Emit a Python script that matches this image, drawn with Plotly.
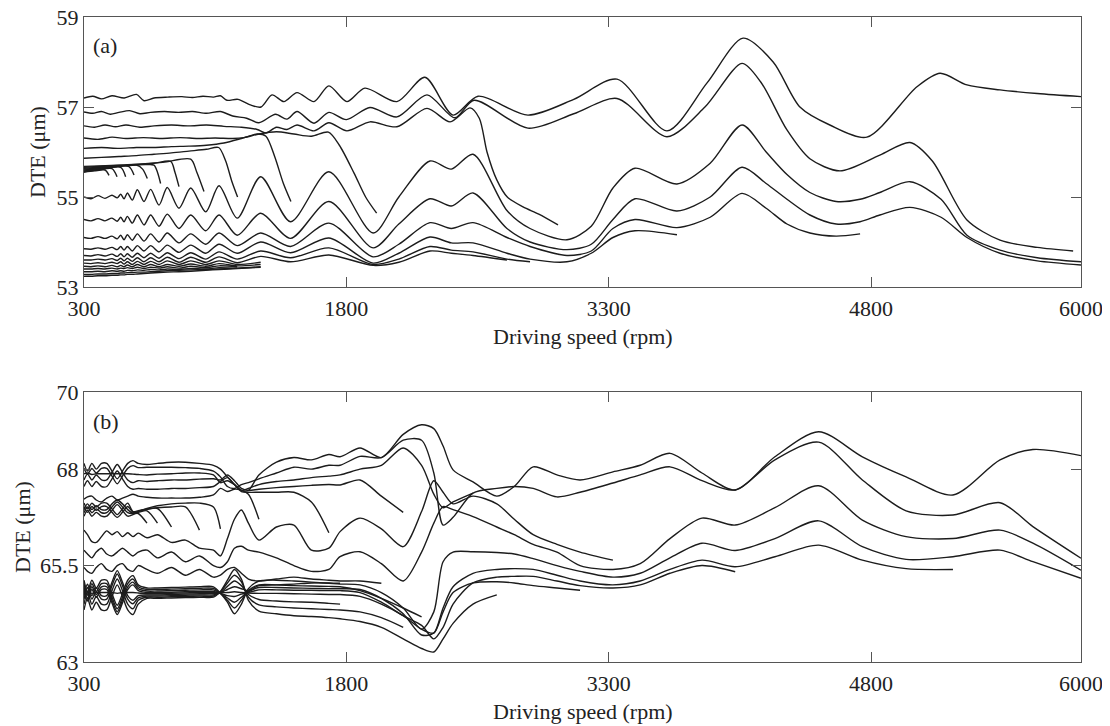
import plotly.graph_objects as go

# ---------------- panel (a) data ----------------
# shared speed grid for the oscillating curves of (a)
rpm_a = [300, 340, 380, 420, 460, 490, 510, 529, 548, 576, 605, 643, 681, 729, 776, 843, 910, 996,
         1072, 1176, 1310, 1481, 1700, 1953, 2100, 2278, 2400, 2524, 2718, 2850, 3061, 3200, 3324,
         3450, 3690, 3880, 4062, 4200, 4319, 4450, 4600, 4737, 4850, 5022, 5200, 5348, 5537, 5750, 6000]

osc1_a = [55.0, 54.96, 55.03, 54.97, 55.04, 54.98, 55.06, 54.96, 55.09, 54.93, 55.16, 54.9, 55.17, 54.82,
          55.21, 54.75, 55.2, 54.67, 55.25, 54.53, 55.45, 54.45, 55.56, 54.2, 55.0, 55.8, 55.62, 55.95,
          54.7, 54.3, 54.05, 54.35, 55.2, 55.64, 55.29, 55.75, 56.6, 56.0, 55.5, 55.1, 54.9, 54.95, 55.1,
          55.34, 54.95, 54.15, 53.82, 53.65, 53.56]
osc2_a = [54.5, 54.47, 54.52, 54.47, 54.53, 54.46, 54.55, 54.45, 54.57, 54.42, 54.6, 54.38, 54.6, 54.35,
          54.62, 54.3, 54.6, 54.25, 54.6, 54.15, 54.64, 54.08, 54.9, 53.87, 54.4, 54.96, 54.8, 55.09,
          54.3, 54.0, 53.83, 53.95, 54.5, 54.96, 54.69, 55.0, 55.66, 55.3, 54.95, 54.6, 54.4, 54.45, 54.6,
          54.77, 54.55, 54.1, 53.75, 53.58, 53.49]
osc3_a = [54.1, 54.08, 54.12, 54.08, 54.13, 54.07, 54.15, 54.05, 54.16, 54.04, 54.18, 54.02, 54.18, 54.0,
          54.2, 53.98, 54.18, 53.95, 54.2, 53.92, 54.2, 53.9, 54.42, 53.67, 53.95, 54.43, 54.3, 54.43,
          54.1, 53.9, 53.7, 53.8, 54.3, 54.5, 54.32, 54.55, 55.08, 54.75, 54.4, 54.2, 54.13, 54.18]
osc4_a = [53.85, 53.84, 53.87, 53.84, 53.88, 53.83, 53.9, 53.82, 53.9, 53.8, 53.92, 53.8, 53.92, 53.78,
          53.93, 53.77, 53.93, 53.75, 53.95, 53.75, 54.0, 53.76, 54.09, 53.53, 53.75, 54.11, 53.98, 53.98,
          53.75, 53.62, 53.56, 53.75, 54.1, 54.25, 54.16]
osc5_a = [53.7, 53.69, 53.72, 53.69, 53.73, 53.68, 53.74, 53.67, 53.74, 53.66, 53.75, 53.65, 53.75, 53.64,
          53.76, 53.63, 53.76, 53.62, 53.78, 53.62, 53.8, 53.65, 53.87, 53.5, 53.62, 53.9, 53.82, 53.78,
          53.62, 53.56]
osc6_a = [53.6, 53.6, 53.62, 53.6, 53.63, 53.59, 53.64, 53.58, 53.64, 53.57, 53.65, 53.56, 53.65, 53.56,
          53.66, 53.55, 53.66, 53.55, 53.67, 53.54, 53.68, 53.56, 53.71, 53.48, 53.55, 53.8, 53.75, 53.7, 53.6]
band1_a = [53.53, 53.52, 53.54, 53.52, 53.55, 53.52, 53.56, 53.51, 53.56, 53.5, 53.57, 53.5, 53.57, 53.5,
           53.58, 53.5, 53.58, 53.5, 53.58, 53.5, 53.55]
band2_a = [53.46, 53.45, 53.47, 53.45, 53.48, 53.45, 53.48, 53.45, 53.49, 53.45, 53.5, 53.45, 53.5, 53.45,
           53.5, 53.46, 53.51, 53.46, 53.52, 53.47, 53.5]
band3_a = [53.4, 53.4, 53.41, 53.4, 53.42, 53.4, 53.42, 53.41, 53.43, 53.41, 53.44, 53.41, 53.44, 53.42,
           53.45, 53.42, 53.46, 53.43, 53.47, 53.45]
band4_a = [53.34, 53.34, 53.35, 53.34, 53.36, 53.35, 53.36, 53.35, 53.37, 53.36, 53.38, 53.37, 53.39, 53.38,
           53.4, 53.39, 53.41, 53.4, 53.43, 53.42, 53.45]
band5_a = [53.28, 53.28, 53.29, 53.29, 53.3, 53.3, 53.31, 53.31, 53.32, 53.32, 53.33, 53.33, 53.34, 53.35,
           53.36, 53.37, 53.38, 53.39, 53.4, 53.42]
band6_a = [53.24, 53.24, 53.25, 53.25, 53.26, 53.26, 53.27, 53.27, 53.28, 53.28, 53.29, 53.3, 53.31, 53.32,
           53.33, 53.34, 53.35, 53.37, 53.39, 53.41, 53.44]

# upper curves of (a), each with its own speeds
top1_x = [300, 350, 400, 460, 530, 600, 643, 700, 780, 860, 920, 980, 1040, 1080, 1117, 1180, 1255, 1312,
          1375, 1443, 1518, 1615, 1700, 1803, 1906, 2089, 2249, 2410, 2553, 2838, 3100, 3347, 3633, 3861,
          4068, 4240, 4393, 4564, 4776, 5062, 5194, 5348, 5537, 5750, 6000]
top1_y = [57.2, 57.24, 57.18, 57.25, 57.2, 57.28, 57.14, 57.2, 57.22, 57.23, 57.21, 57.24, 57.22, 57.25,
          57.15, 57.17, 57.04, 57.0, 57.27, 57.12, 57.32, 57.12, 57.47, 57.12, 57.42, 57.12, 57.66, 56.82,
          57.24, 56.82, 57.17, 57.62, 56.47, 57.53, 58.53, 58.0, 57.0, 56.6, 56.33, 57.45, 57.75, 57.49,
          57.38, 57.3, 57.23]
top2_x = [300, 350, 400, 450, 500, 560, 620, 680, 760, 840, 920, 1000, 1080, 1150, 1230, 1300, 1395, 1460,
          1518, 1615, 1700, 1800, 1935, 2089, 2261, 2420, 2530, 2838, 3100, 3347, 3633, 3850, 4062, 4170,
          4319, 4450, 4622, 4850, 5022, 5150, 5348, 5537, 5750, 5955]
top2_y = [56.89, 56.86, 56.9, 56.84, 56.88, 56.92, 56.85, 56.88, 56.9, 56.88, 56.9, 56.86, 56.9, 56.8,
          56.75, 56.65, 56.84, 56.73, 56.9, 56.64, 56.88, 56.72, 56.99, 56.78, 57.27, 56.76, 57.15, 56.53,
          56.85, 57.19, 56.34, 57.0, 57.97, 57.55, 56.49, 55.85, 55.58, 55.93, 56.21, 55.8, 54.49, 54.04,
          53.88, 53.8]
top3_x = [300, 360, 420, 480, 540, 620, 700, 800, 900, 1000, 1100, 1200, 1290, 1340, 1400, 1460, 1518,
          1615, 1700, 1803, 1935, 2089, 2261, 2393, 2507, 2560, 2604, 2660, 2720, 2810, 2900, 3010]
top3_y = [56.58, 56.55, 56.6, 56.56, 56.6, 56.55, 56.58, 56.6, 56.58, 56.6, 56.57, 56.55, 56.5, 56.42,
          56.55, 56.5, 56.6, 56.47, 56.65, 56.47, 56.67, 56.56, 56.97, 56.67, 56.98, 56.75, 56.0, 55.38,
          55.0, 54.78, 54.62, 54.38]
top4_x = [300, 380, 460, 540, 640, 740, 850, 950, 1050, 1150, 1215, 1300, 1400, 1500, 1600, 1697, 1760,
          1844, 1910, 1973]
top4_y = [56.31, 56.28, 56.33, 56.3, 56.32, 56.3, 56.32, 56.3, 56.31, 56.3, 56.32, 56.4, 56.45, 56.4,
          56.35, 56.44, 56.15, 55.53, 55.0, 54.64]
top5_x = [300, 400, 500, 600, 700, 800, 900, 1000, 1100, 1200, 1290, 1340, 1390, 1440, 1483]
top5_y = [56.08, 56.1, 56.08, 56.1, 56.1, 56.12, 56.13, 56.15, 56.2, 56.3, 56.4, 56.35, 55.9, 55.3, 54.9]
top6_x = [300, 400, 500, 600, 700, 800, 900, 1000, 1070, 1110, 1145, 1178]
top6_y = [55.86, 55.88, 55.9, 55.92, 55.95, 55.98, 56.02, 56.06, 56.1, 55.8, 55.35, 55.0]

# short curves that drop off near 55.5
drop1_x = [300, 360, 420, 443]
drop1_y = [55.55, 55.58, 55.6, 55.48]
drop2_x = [300, 380, 460, 489]
drop2_y = [55.57, 55.6, 55.63, 55.45]
drop3_x = [300, 400, 510, 538]
drop3_y = [55.58, 55.62, 55.66, 55.45]
drop4_x = [300, 420, 555, 586]
drop4_y = [55.6, 55.64, 55.68, 55.49]
drop5_x = [300, 450, 600, 635, 662]
drop5_y = [55.62, 55.66, 55.71, 55.62, 55.41]
drop6_x = [300, 480, 650, 700, 720, 738]
drop6_y = [55.64, 55.68, 55.72, 55.71, 55.55, 55.3]
drop7_x = [300, 500, 700, 796, 820, 843]
drop7_y = [55.66, 55.7, 55.75, 55.79, 55.55, 55.23]
drop8_x = [300, 550, 750, 910, 945, 986]
drop8_y = [55.68, 55.72, 55.77, 55.84, 55.55, 55.12]

# ---------------- panel (b) data ----------------
rpm_b = [300, 320, 345, 370, 400, 430, 460, 490, 520, 550, 580, 610, 660, 720, 800, 880, 960, 1040, 1080,
         1120, 1160, 1200, 1240, 1300, 1400, 1500, 1600, 1700, 1764, 1878, 2000, 2125, 2230, 2300, 2353,
         2410, 2524, 2660, 2760, 2868, 3004, 3136, 3324, 3480, 3650, 3833, 4023, 4250, 4500, 4750, 5000,
         5268, 5537, 5725, 6000]

up1_b = [68.15, 67.95, 68.15, 68.0, 68.15, 68.15, 67.95, 67.75, 67.95, 68.15, 68.22, 68.15, 68.12, 68.15,
         68.18, 68.18, 68.15, 68.1, 68.0, 67.8, 67.6, 67.45, 67.45, 67.85, 68.18, 68.3, 68.24, 68.38, 68.32,
         68.55, 68.3, 68.9, 69.15, 69.05, 68.6, 67.98, 67.67, 67.3, 67.55, 68.06, 67.85, 67.72, 67.93,
         68.1, 68.41, 67.9, 67.46, 68.32, 68.97, 68.32, 67.8, 67.33, 68.24, 68.51, 68.35]
up2_b = [68.02, 67.87, 68.02, 67.9, 68.02, 68.02, 67.82, 67.62, 67.82, 68.02, 68.09, 68.04, 68.05, 68.05,
         68.05, 68.04, 68.02, 67.95, 67.8, 67.55, 67.5, 67.6, 67.65, 67.75, 67.9, 68.05, 68.0, 68.1, 68.1,
         68.33, 68.3, 68.75, 68.75, 67.9, 66.55, 66.75, 67.38, 67.5, 67.55, 67.5, 67.28, 67.4, 67.64,
         67.85, 68.06, 67.7, 67.46, 68.24, 68.7, 67.72, 66.92, 66.81, 67.13, 66.51, 65.69]
up3_b = [67.88, 67.9, 67.86, 67.88, 67.88, 67.88, 67.88, 67.88, 67.88, 67.88, 67.87, 67.86, 67.85, 67.87,
         67.88, 67.9, 67.9, 67.85, 67.65, 67.7, 67.6, 67.45, 67.5, 67.6, 67.68, 67.72, 67.78, 67.82, 67.85,
         68.0, 68.1, 68.55, 68.1, 67.35, 67.0, 67.15, 67.38]
up4_b = [67.72, 67.87, 67.72, 67.85, 67.72, 67.72, 67.92, 68.12, 67.92, 67.72, 67.65, 67.7, 67.68, 67.7,
         67.72, 67.72, 67.74, 67.75, 67.72, 67.85, 67.7, 67.5, 67.45, 67.48, 67.52, 67.55, 67.58, 67.6,
         67.59, 67.72, 67.3, 66.88]
up5_b = [67.55, 67.7, 67.55, 67.68, 67.55, 67.55, 67.75, 67.95, 67.75, 67.55, 67.48, 67.5, 67.48, 67.48,
         67.5, 67.5, 67.52, 67.55, 67.68, 67.78, 67.6, 67.42, 67.4, 67.4, 67.4, 67.4, 67.15, 66.35]
up6_b = [67.22, 67.28, 67.3, 67.2, 67.15, 67.25, 67.3, 67.2, 67.25, 67.3, 67.35, 67.3, 67.27, 67.25,
         67.25, 67.25, 67.27, 67.33, 67.5, 67.42, 67.48, 67.45, 67.35, 66.7]

tick1_b = [66.95, 67.1, 66.95, 67.05, 66.95, 66.95, 67.1, 67.2, 67.1, 66.95, 66.85, 66.85, 66.6]
tick2_b = [67.03, 66.88, 67.03, 66.93, 67.03, 67.03, 66.88, 66.75, 66.88, 67.03, 66.88, 66.88, 66.92, 66.6]
tick3_b = [66.87, 67.02, 66.87, 66.97, 66.87, 66.87, 67.02, 67.15, 67.02, 66.87, 66.85, 66.9, 66.95, 66.98,
           66.5]
tick4_b = [67.12, 66.97, 67.12, 67.02, 67.12, 67.12, 66.97, 66.82, 66.97, 67.12, 66.9, 66.92, 66.97, 67.0,
           67.02, 67.02, 66.42]
tick5_b = [66.78, 66.93, 66.78, 66.88, 66.78, 66.78, 66.93, 67.08, 66.93, 66.78, 66.82, 66.9, 66.98, 67.05,
           67.1, 67.12, 67.12, 67.02, 66.45]

mid1_b = [66.42, 66.3, 66.12, 66.1, 66.25, 66.4, 66.3, 66.38, 66.25, 66.35, 66.25, 66.34, 66.22, 66.3,
          66.1, 66.16, 65.95, 65.9, 65.75, 66.2, 66.7, 66.94, 66.6, 66.16, 66.5, 66.55, 65.9, 65.95, 66.38,
          66.73, 66.45, 65.99, 66.9, 67.7, 67.4, 67.1, 67.3, 67.1, 66.7, 66.3, 66.05, 65.85, 65.64]
mid2_b = [65.9, 65.8, 65.7, 65.85, 65.95, 65.8, 65.75, 65.85, 65.95, 65.85, 65.75, 65.85, 65.9, 65.7,
          65.85, 65.6, 65.75, 65.5, 65.45, 65.6, 65.95, 66.0, 65.9, 65.85, 65.7, 65.5, 65.35, 65.4, 65.73,
          65.86, 65.55, 65.1, 65.85, 66.6, 67.03, 66.95, 66.77, 66.5, 66.3, 66.05, 65.85, 65.5, 65.4,
          65.55, 66.2, 66.73, 66.55, 67.0, 67.57, 66.68, 66.25, 66.2, 66.42, 66.08, 65.38]
mid3_b = [65.45, 65.35, 65.3, 65.45, 65.55, 65.4, 65.35, 65.5, 65.55, 65.4, 65.35, 65.5, 65.4, 65.3,
          65.45, 65.25, 65.4, 65.2, 65.25, 65.4, 65.45, 65.3, 65.15, 65.1, 65.15, 65.2, 65.15, 65.12, 65.1,
          65.1, 65.04]

low1_b = [65.12, 64.82, 65.12, 64.92, 65.12, 65.12, 64.77, 64.47, 64.77, 65.12, 65.24, 65.0, 64.92, 64.92,
          64.93, 64.94, 64.95, 64.95, 64.78, 64.55, 64.25, 64.5, 64.9, 65.1, 65.12, 65.1, 65.07, 65.04,
          65.02, 65.0, 64.8, 64.4, 63.85, 64.3, 65.6, 65.85, 65.86, 65.84, 65.8, 65.68, 65.5, 65.35, 65.2,
          65.3, 65.7, 66.08, 65.89, 66.2, 66.66, 65.99, 65.66, 65.73, 65.9, 65.6, 65.17]
low2_b = [65.03, 64.73, 65.03, 64.83, 65.03, 65.03, 64.68, 64.38, 64.68, 65.03, 65.15, 64.95, 64.88, 64.88,
          64.89, 64.9, 64.91, 64.91, 64.78, 64.6, 64.4, 64.6, 64.85, 65.0, 65.0, 64.98, 64.97, 64.96,
          64.95, 64.85, 64.65, 64.4, 64.17]
low3_b = [64.95, 64.65, 64.95, 64.75, 64.95, 64.95, 64.6, 64.3, 64.6, 64.95, 65.07, 64.9, 64.84, 64.84,
          64.85, 64.86, 64.87, 64.87, 64.78, 64.66, 64.55, 64.68, 64.82, 64.93, 64.93, 64.92, 64.91, 64.9,
          64.9, 64.88, 64.65, 64.25, 63.7, 63.75, 64.4, 64.95, 65.3, 65.4, 65.42, 65.4, 65.25, 65.1, 65.0,
          65.1, 65.4, 65.64, 65.47, 65.73, 66.03, 65.64, 65.42, 65.4]
low4_b = [64.88, 64.58, 64.88, 64.68, 64.88, 64.88, 64.53, 64.23, 64.53, 64.88, 65.0, 64.85, 64.8, 64.8,
          64.81, 64.82, 64.83, 64.83, 64.78, 64.72, 64.7, 64.76, 64.8, 64.87, 64.87, 64.86, 64.86, 64.85,
          64.85, 64.8, 64.55, 64.2, 63.95, 63.6, 63.9, 64.5, 65.05, 65.2, 65.22, 65.22, 65.1, 64.98, 64.92,
          65.0, 65.3, 65.5, 65.34]
low5_b = [64.8, 64.82, 64.78, 64.8, 64.8, 64.8, 64.8, 64.78, 64.8, 64.8, 64.8, 64.79, 64.77, 64.77,
          64.78, 64.79, 64.8, 64.8, 64.8, 64.8, 64.82, 64.8, 64.79, 64.78, 64.78, 64.77, 64.76, 64.75,
          64.75, 64.7, 64.5, 64.2, 63.85, 63.75, 64.3, 64.8, 65.05, 65.08, 65.05, 64.98, 64.92, 64.86]
low6_b = [64.72, 65.02, 64.72, 64.92, 64.72, 64.72, 65.07, 65.37, 65.07, 64.72, 64.6, 64.72, 64.74, 64.74,
          64.75, 64.76, 64.77, 64.77, 64.8, 64.88, 64.95, 64.9, 64.85, 64.98, 65.0, 65.02, 65.05, 65.05,
          65.04]
low7_b = [64.63, 64.93, 64.63, 64.83, 64.63, 64.63, 64.98, 65.28, 64.98, 64.63, 64.51, 64.66, 64.71, 64.71,
          64.72, 64.73, 64.74, 64.74, 64.8, 64.96, 65.1, 64.98, 64.75, 64.62, 64.58, 64.56, 64.55, 64.52,
          64.5]
low8_b = [64.5, 64.8, 64.5, 64.7, 64.5, 64.5, 64.85, 65.15, 64.85, 64.5, 64.38, 64.6, 64.68, 64.68,
          64.69, 64.7, 64.71, 64.71, 64.82, 65.05, 65.25, 65.08, 64.68, 64.48, 64.43, 64.4, 64.38, 64.36,
          64.35, 64.3, 64.15, 63.9]
low9_b = [64.35, 64.65, 64.35, 64.55, 64.35, 64.35, 64.7, 65.0, 64.7, 64.35, 64.23, 64.5, 64.65, 64.65,
          64.66, 64.67, 64.68, 64.68, 64.83, 65.12, 65.4, 65.15, 64.6, 64.32, 64.25, 64.2, 64.18, 64.15,
          64.12, 64.05, 63.9, 63.6, 63.35, 63.26, 63.6, 64.0, 64.5, 64.74]

x_ticks = [300, 1800, 3300, 4800, 6000]
y_ticks_a = [53, 55, 57, 59]
y_ticks_b = [63, 65.5, 68, 70]

# ---------------- build figure ----------------
# the page adds an 8 px body margin, so the figure is 8 px smaller each way
W, H = 1102, 718
fig = go.Figure()
line_style = dict(color='#1c1c1c', width=1.4, shape='spline', smoothing=0.8)


def add_curve(xs, ys, panel):
    fig.add_trace(go.Scatter(
        x=xs[:len(ys)], y=ys, mode='lines', line=line_style,
        xaxis='x' if panel == 1 else 'x2', yaxis='y' if panel == 1 else 'y2',
        hoverinfo='skip', showlegend=False))


for ys in [osc1_a, osc2_a, osc3_a, osc4_a, osc5_a, osc6_a,
           band1_a, band2_a, band3_a, band4_a, band5_a, band6_a]:
    add_curve(rpm_a, ys, 1)

for xs, ys in [(top1_x, top1_y), (top2_x, top2_y), (top3_x, top3_y), (top4_x, top4_y),
               (top5_x, top5_y), (top6_x, top6_y), (drop1_x, drop1_y), (drop2_x, drop2_y),
               (drop3_x, drop3_y), (drop4_x, drop4_y), (drop5_x, drop5_y), (drop6_x, drop6_y),
               (drop7_x, drop7_y), (drop8_x, drop8_y)]:
    add_curve(xs, ys, 1)

for ys in [up1_b, up2_b, up3_b, up4_b, up5_b, up6_b, tick1_b, tick2_b, tick3_b, tick4_b, tick5_b,
           mid1_b, mid2_b, mid3_b, low1_b, low2_b, low3_b, low4_b, low5_b, low6_b, low7_b, low8_b,
           low9_b]:
    add_curve(rpm_b, ys, 2)

font_main = dict(family='Liberation Serif, Times New Roman, serif', size=22, color='#222')
frame = '#555'
x_common = dict(range=[300, 6000], tickvals=x_ticks, ticks='inside', ticklen=10, tickcolor=frame,
                showline=True, linecolor=frame, linewidth=1, mirror='ticks', showgrid=False,
                zeroline=False, tickfont=font_main, domain=[76 / W, 1073 / W], automargin=False,
                ticklabelstandoff=2, ticklabeloverflow='allow')
y_common = dict(ticks='inside', ticklen=10, tickcolor=frame, showline=True, linecolor=frame,
                linewidth=1, mirror='ticks', showgrid=False, zeroline=False, tickfont=font_main,
                automargin=False, ticklabeloverflow='allow')


def px(x):
    return x / W


def py(y):
    return 1 - y / H


fig.update_layout(
    template='none',
    width=W, height=H, margin=dict(l=0, r=0, t=0, b=0, pad=0),
    paper_bgcolor='white', plot_bgcolor='white', font=font_main,
    xaxis=dict(x_common, anchor='y'),
    yaxis=dict(y_common, range=[53, 59], tickvals=y_ticks_a, domain=[py(279), py(9)], anchor='x'),
    xaxis2=dict(x_common, anchor='y2'),
    yaxis2=dict(y_common, range=[63, 70], tickvals=y_ticks_b, ticktext=['63', '65.5', '68', '70'],
                domain=[py(654), py(384)], anchor='x2'),
    annotations=[
        dict(text='Driving speed (rpm)', x=px(574.5), y=py(328), xref='paper', yref='paper',
             showarrow=False, font=font_main, xanchor='center', yanchor='middle'),
        dict(text='Driving speed (rpm)', x=px(574.5), y=py(703), xref='paper', yref='paper',
             showarrow=False, font=font_main, xanchor='center', yanchor='middle'),
        dict(text='DTE (μm)', x=px(30), y=py(144), xref='paper', yref='paper',
             showarrow=False, font=font_main, textangle=-90, xanchor='center', yanchor='middle'),
        dict(text='DTE (μm)', x=px(14), y=py(519), xref='paper', yref='paper',
             showarrow=False, font=font_main, textangle=-90, xanchor='center', yanchor='middle'),
        dict(text='(a)', x=px(83), y=py(38), xref='paper', yref='paper',
             showarrow=False, font=font_main, xanchor='left', yanchor='middle'),
        dict(text='(b)', x=px(83), y=py(413), xref='paper', yref='paper',
             showarrow=False, font=font_main, xanchor='left', yanchor='middle'),
    ],
)

fig.write_html("out.html")
